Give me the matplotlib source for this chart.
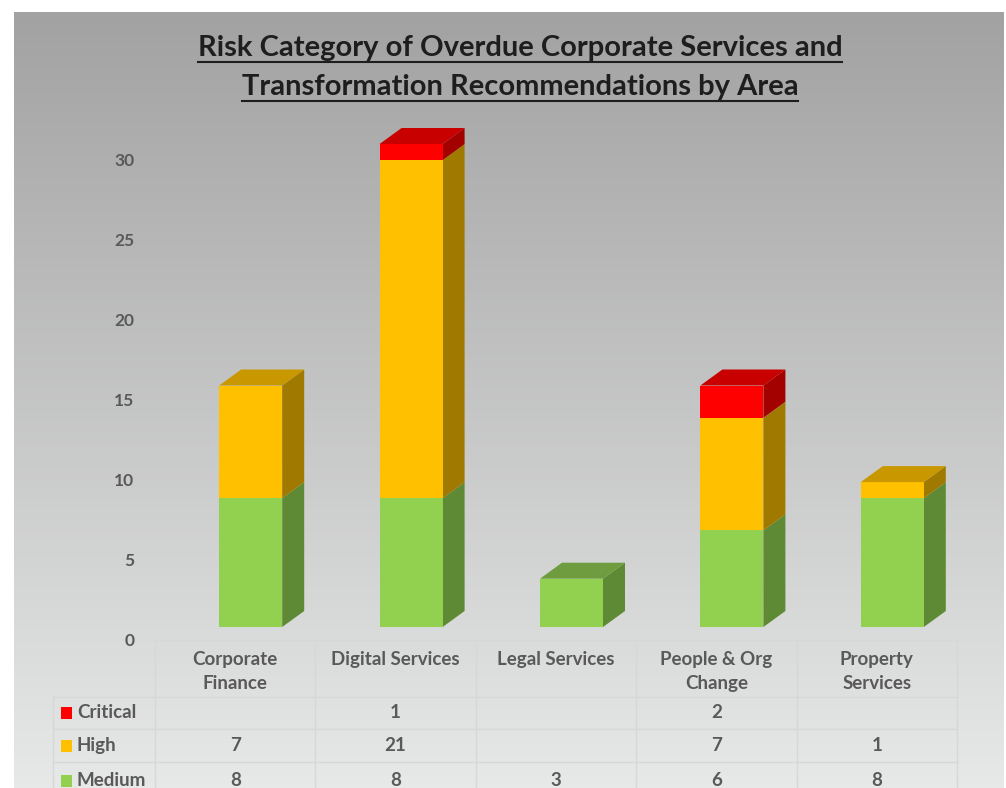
import numpy as np
import matplotlib
matplotlib.use('Agg')
import matplotlib.pyplot as plt
from matplotlib.patches import Polygon, Rectangle
from matplotlib.lines import Line2D

# Overdue recommendations by area and risk category
areas = ['Corporate\nFinance', 'Digital Services', 'Legal Services',
         'People & Org\nChange', 'Property\nServices']
series = ['Critical', 'High', 'Medium']
medium = [8, 8, 3, 6, 8]
high = [7, 21, 0, 7, 1]
critical = [0, 1, 0, 2, 0]
value_ticks = [0, 5, 10, 15, 20, 25, 30]

# front / top / side shades for each series
colors = {
    'Medium': ('#92D050', '#6E9C3E', '#5F8A35'),
    'High': ('#FFC000', '#C99700', '#A07A00'),
    'Critical': ('#FF0000', '#C80000', '#A30000'),
}

W, H = 1006, 788
plt.rcParams['font.family'] = ['Lato', 'DejaVu Sans']
fig = plt.figure(figsize=(W / 100, H / 100), dpi=100)
fig.patch.set_facecolor('white')


def fx(x):
    return x / W


def fy(y):
    return 1 - y / H


# gradient background of the chart area
bg = fig.add_axes([fx(14), 0, fx(1004) - fx(14), fy(12)])
grad = np.linspace(0, 1, 256)[:, None]
top_c = np.array([0xA2, 0xA2, 0xA2]) / 255
bot_c = np.array([0xE7, 0xE8, 0xE8]) / 255
img = top_c + (bot_c - top_c) * grad[..., None]
bg.imshow(np.repeat(img, 2, axis=1), aspect='auto', extent=[0, 1, 0, 1])
bg.axis('off')

# bar axes, x spans the data table columns
col0, col_w = 155, 160.4
n = len(areas)
px_per_unit = 16.1
base_px = 627
ymax = 33
ax = fig.add_axes([fx(col0), fy(base_px), fx(col_w * n),
                   ymax * px_per_unit / H])
ax.set_xlim(-0.5, n - 0.5)
ax.set_ylim(0, ymax)
ax.axis('off')

bar_w = 63 / col_w
shift = 15.5 / col_w
dx = 22 / col_w
dy = 16 / px_per_unit

stack = [('Medium', medium), ('High', high), ('Critical', critical)]
for i in range(n):
    x0 = i + shift - bar_w / 2
    x1 = x0 + bar_w
    bottom = 0
    top_name = None
    for name, vals in stack:
        v = vals[i]
        if v == 0:
            continue
        front, topc, side = colors[name]
        y0, y1 = bottom, bottom + v
        ax.add_patch(Polygon([(x1, y0), (x1 + dx, y0 + dy), (x1 + dx, y1 + dy), (x1, y1)],
                             closed=True, facecolor=side, edgecolor='none'))
        ax.add_patch(Rectangle((x0, y0), bar_w, v, facecolor=front, edgecolor='none'))
        bottom = y1
        top_name = name
    if top_name:
        topc = colors[top_name][1]
        ax.add_patch(Polygon([(x0, bottom), (x0 + dx, bottom + dy), (x1 + dx, bottom + dy), (x1, bottom)],
                             closed=True, facecolor=topc, edgecolor='none'))

# value axis labels
text_c = '#595959'
axv = fig.add_axes([fx(140), fy(640), fx(10), fy(160) - fy(640)])
axv.set_ylim(0, 30)
axv.set_xlim(0, 1)
axv.set_yticks(value_ticks)
axv.set_xticks([])
axv.tick_params(axis='y', length=0, pad=4, labelsize=12.5, labelcolor=text_c)
for lab in axv.get_yticklabels():
    lab.set_fontweight('bold')
for s in axv.spines.values():
    s.set_visible(False)
axv.patch.set_alpha(0)

# data table
grid_c = '#D6D8D8'
row_y = [640, 697, 729, 762, 800]
col_x = [col0 + k * col_w for k in range(n + 1)]
fig.add_artist(Line2D([fx(col_x[0]), fx(col_x[-1])], [fy(640)] * 2, color=grid_c, lw=1))
for y in row_y[1:4]:
    fig.add_artist(Line2D([fx(53), fx(col_x[-1])], [fy(y)] * 2, color=grid_c, lw=1))
for x in col_x:
    fig.add_artist(Line2D([fx(x)] * 2, [fy(640), fy(788)], color=grid_c, lw=1))
fig.add_artist(Line2D([fx(53)] * 2, [fy(697), fy(788)], color=grid_c, lw=1))

for k, name in enumerate(areas):
    cx = col0 + (k + 0.5) * col_w
    fig.text(fx(cx), fy(651), name, ha='center', va='top', fontsize=13.5,
             color=text_c, fontweight='bold', linespacing=1.5)

table_rows = [('Critical', critical), ('High', high), ('Medium', medium)]
for r, (name, vals) in enumerate(table_rows):
    cy = (row_y[r + 1] + row_y[r + 2]) / 2
    fig.add_artist(Rectangle((fx(61), fy(cy + 6)), fx(11), 12 / H,
                             facecolor=colors[name][0], edgecolor='none'))
    fig.text(fx(77), fy(cy), name, ha='left', va='center', fontsize=13.5,
             color=text_c, fontweight='bold')
    for k, v in enumerate(vals):
        if v:
            cx = col0 + (k + 0.5) * col_w
            fig.text(fx(cx), fy(cy), str(v), ha='center', va='center', fontsize=13.5,
                     color=text_c, fontweight='bold')

# underlined two-line title
titles = ['Risk Category of Overdue Corporate Services and',
          'Transformation Recommendations by Area']
title_objs = []
for line, y in zip(titles, [48, 87]):
    t = fig.text(fx(520), fy(y), line, ha='center', va='center', fontsize=21,
                 color='#1E1E1E', fontweight='bold')
    title_objs.append(t)
fig.canvas.draw()
for t in title_objs:
    bb = t.get_window_extent()
    yline = bb.y0 - 1
    fig.add_artist(Line2D([bb.x0 / W, bb.x1 / W], [yline / H] * 2, color='#1E1E1E', lw=1.5))

fig.savefig('out.png', dpi=100)
plt.close(fig)
